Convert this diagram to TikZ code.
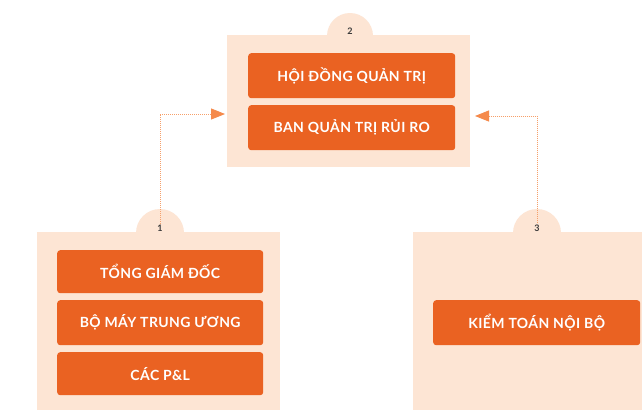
\documentclass[tikz,border=0pt]{standalone}
\usepackage{fontspec}
\setmainfont{Lato}
\newfontfamily\btnfont[LetterSpace=3]{Lato}
\usetikzlibrary{arrows.meta}
\definecolor{panelc}{HTML}{FDE5D4}
\definecolor{btnc}{HTML}{EA6222}
\definecolor{linec}{HTML}{F6A06A}
\definecolor{tipc}{HTML}{F58A4B}
\definecolor{numc}{HTML}{3A3A3A}
\tikzset{
  panel/.style={fill=panelc, draw=none},
  btn/.style={fill=btnc, draw=none, rounded corners=3pt, text=white, font=\btnfont\fontsize{14}{16}\selectfont\bfseries, inner sep=0pt, anchor=north west},
  num/.style={text=numc, font=\fontsize{9}{10}\selectfont\bfseries, inner sep=1pt},
  conn/.style={draw=linec, line width=0.9pt, dash pattern=on 1pt off 1pt, -{Triangle[length=14pt,width=11pt,color=tipc]}}
}
\begin{document}
\begin{tikzpicture}[x=1pt,y=-1pt]
\useasboundingbox[fill=white] (0,0) rectangle (642,410);
% panel 2
\fill[panel] (350,36) circle (23);
\fill[panel] (227,35) rectangle (470,167);
\node[num] (l2) at (350,31) {2};
\node[btn, minimum width=207pt, minimum height=45pt] (b21) at (248,53) {HỘI ĐỒNG QUẢN TRỊ};
\node[btn, minimum width=207pt, minimum height=45pt] (b22) at (248,105) {BAN QUẢN TRỊ RỦI RO};
% panel 1
\fill[panel] (160,233) circle (24);
\fill[panel] (37,232) rectangle (280,410);
\node[num] (l1) at (160,228) {1};
\node[btn, minimum width=206pt, minimum height=43pt] (b11) at (57,250) {TỔNG GIÁM ĐỐC};
\node[btn, minimum width=206pt, minimum height=45pt] (b12) at (57,300) {BỘ MÁY TRUNG ƯƠNG};
\node[btn, minimum width=206pt, minimum height=43pt] (b13) at (57,352) {CÁC P\&L};
% panel 3
\fill[panel] (537,233) circle (24);
\fill[panel] (413,232) rectangle (642,410);
\node[num] (l3) at (537,228) {3};
\node[btn, minimum width=207pt, minimum height=45pt] (b31) at (433,300) {KIỂM TOÁN NỘI BỘ};
% connectors
\coordinate (a1) at (225,114);
\coordinate (a3) at (475,116);
\draw[conn] (l1.north) |- (a1);
\draw[conn] (l3.north) |- (a3);
\end{tikzpicture}
\end{document}
